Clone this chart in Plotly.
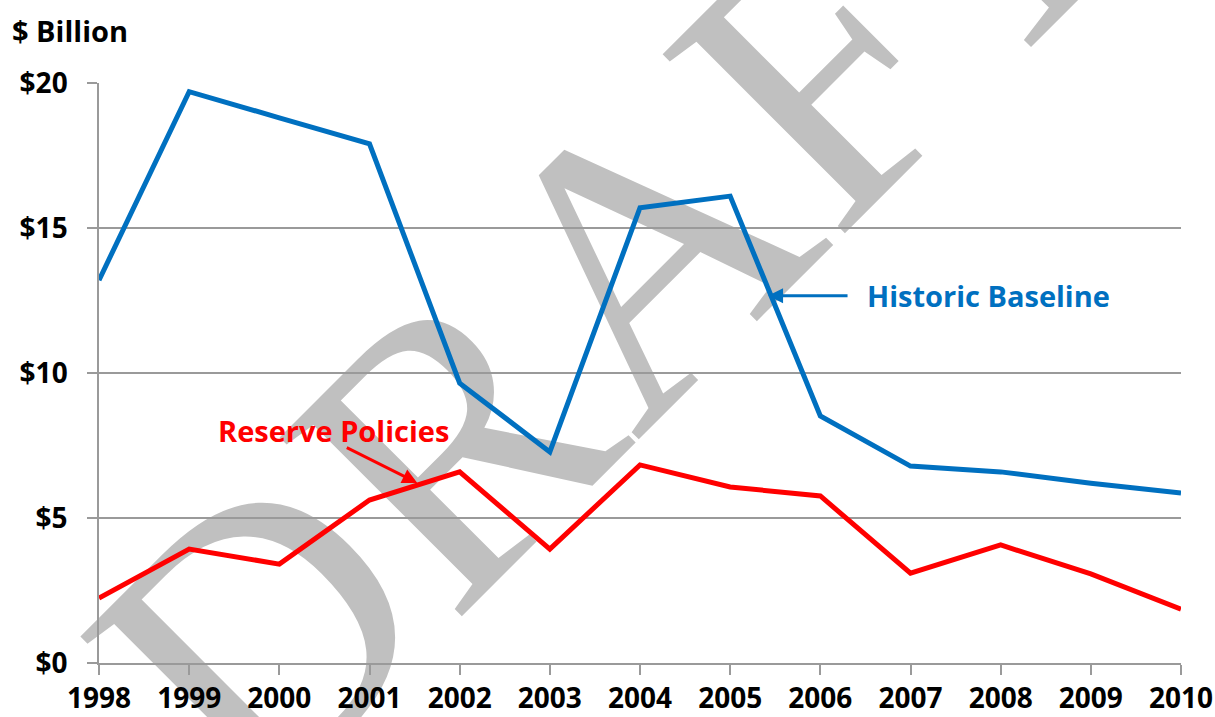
import plotly.graph_objects as go

years = list(range(1998, 2011))
historic_baseline = [13.2, 19.7, 18.8, 17.9, 9.65, 7.28, 15.7, 16.1, 8.52, 6.79, 6.59, 6.2, 5.86]
reserve_policies = [2.24, 3.93, 3.41, 5.62, 6.59, 3.93, 6.83, 6.07, 5.76, 3.1, 4.07, 3.07, 1.86]
y_ticks = [0, 5, 10, 15, 20]
y_tick_labels = ["$0", "$5", "$10", "$15", "$20"]

BLUE = "#0070C0"
RED = "#FF0000"
GRID = "#9A9A9A"
FONT = "Open Sans"
SERIF = "Liberation Serif, Times New Roman, serif"

fig = go.Figure()
fig.add_trace(go.Scatter(x=years, y=historic_baseline, mode="lines",
                         line=dict(color=BLUE, width=5), name="Historic Baseline",
                         showlegend=False))
fig.add_trace(go.Scatter(x=years, y=reserve_policies, mode="lines",
                         line=dict(color=RED, width=5), name="Reserve Policies",
                         showlegend=False))

# DRAFT watermark (below grid and traces)
cx, cy = 0.4464, 0.712
fig.add_shape(type="rect", xref="paper", yref="paper",
              x0=cx - 0.05, x1=cx + 0.05, y0=cy - 0.05, y1=cy + 0.05,
              line=dict(width=0), fillcolor="rgba(0,0,0,0)", layer="below",
              label=dict(text="DRAFT", textangle=-45, textposition="middle center",
                         font=dict(family=SERIF, size=390, color="#C0C0C0")))

annotations = [
    dict(text="$ Billion", xref="paper", yref="paper", x=-0.0823, y=1.0897,
         xanchor="left", yanchor="middle", showarrow=False,
         font=dict(family=FONT, size=29, color="black", weight="bold")),
    dict(text="Historic Baseline", x=2006.49, y=12.66, xanchor="left", yanchor="middle",
         showarrow=False, font=dict(family=FONT, size=29, color=BLUE, weight="bold")),
    dict(text="", x=2005.42, y=12.66, ax=81, ay=0, showarrow=True,
         arrowhead=2, arrowsize=1, arrowwidth=3, arrowcolor=BLUE),
    dict(text="Reserve Policies", x=2000.6, y=8.03, xanchor="center", yanchor="middle",
         showarrow=False, font=dict(family=FONT, size=29, color=RED, weight="bold")),
    dict(text="", x=2001.53, y=6.21, ax=-72, ay=-36, showarrow=True,
         arrowhead=2, arrowsize=1, arrowwidth=3, arrowcolor=RED),
]

fig.update_layout(
    width=1215, height=717,
    margin=dict(l=99, r=34, t=83, b=54, autoexpand=False),
    font=dict(family=SERIF),
    plot_bgcolor="white", paper_bgcolor="white",
    showlegend=False,
    annotations=annotations,
    xaxis=dict(range=[1998, 2010], tickmode="array", tickvals=years,
               ticktext=[str(y) for y in years], showgrid=False, automargin=False,
               showline=True, linecolor=GRID, linewidth=1.5,
               ticks="outside", ticklen=10, tickcolor=GRID, tickwidth=1.5,
               tickfont=dict(family=FONT, size=28, color="black", weight="bold"),
               zeroline=False),
    yaxis=dict(range=[0, 20], tickmode="array", tickvals=y_ticks, ticktext=y_tick_labels,
               showgrid=True, gridcolor=GRID, gridwidth=1.5, automargin=False,
               showline=True, linecolor=GRID, linewidth=1.5,
               ticks="outside", ticklen=10, tickcolor=GRID, tickwidth=1.5,
               ticklabelstandoff=14,
               tickfont=dict(family=FONT, size=28, color="black", weight="bold"),
               zeroline=False),
)

fig.write_html("out.html")
